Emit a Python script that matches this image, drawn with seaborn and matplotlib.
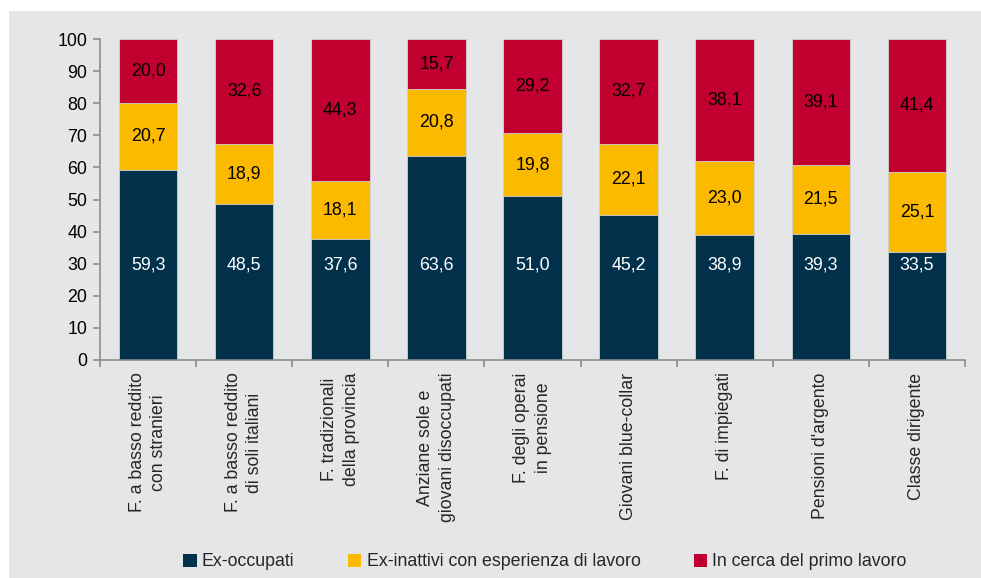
import numpy as np
import pandas as pd
import matplotlib
matplotlib.use("Agg")
import matplotlib.pyplot as plt
from matplotlib.patches import Rectangle, Patch
import seaborn as sns

# ---------------- dati ----------------
categorie = [
    "F. a basso reddito\ncon stranieri",
    "F. a basso reddito\ndi soli italiani",
    "F. tradizionali\ndella provincia",
    "Anziane sole e\ngiovani disoccupati",
    "F. degli operai\nin pensione",
    "Giovani blue-collar",
    "F. di impiegati",
    "Pensioni d'argento",
    "Classe dirigente",
]
ex_occupati = [59.3, 48.5, 37.6, 63.6, 51.0, 45.2, 38.9, 39.3, 33.5]
ex_inattivi = [20.7, 18.9, 18.1, 20.8, 19.8, 22.1, 23.0, 21.5, 25.1]
primo_lavoro = [20.0, 32.6, 44.3, 15.7, 29.2, 32.7, 38.1, 39.1, 41.4]

serie = ["Ex-occupati", "Ex-inattivi con esperienza di lavoro", "In cerca del primo lavoro"]
colori = ["#02324b", "#fbba00", "#c2002f"]

# ---------------- stile ----------------
sns.set_theme(style="white")
plt.rcParams["font.family"] = ["Liberation Sans", "DejaVu Sans"]
FS = 12.8
BG = "#e5e6e8"
GRIGIO = "#8c8c8c"

df = pd.DataFrame({
    "cat": categorie,
    "occ": ex_occupati,
    "ina": ex_inattivi,
    "cerca": primo_lavoro,
})
df["cum1"] = df["occ"]
df["cum2"] = df["occ"] + df["ina"]
df["cum3"] = df["cum2"] + df["cerca"]

fig = plt.figure(figsize=(9.81, 5.78), dpi=100)
fig.patch.set_facecolor("white")
fig.patches.append(Rectangle((9 / 981, 0), 1, 1 - 11 / 578, transform=fig.transFigure,
                             facecolor=BG, edgecolor="none", zorder=-10))
ax = fig.add_axes([100 / 981, 1 - 360 / 578, 865 / 981, 321 / 578])
ax.set_facecolor(BG)

# barre sovrapposte (totali cumulati), dal piu' alto al piu' basso
for col, c in zip(["cum3", "cum2", "cum1"], colori[::-1]):
    sns.barplot(data=df, x="cat", y=col, color=c, width=0.61, ax=ax,
                saturation=1, linewidth=0.6, edgecolor="#d0d3d8", zorder=2)

# etichette
for i in range(len(categorie)):
    ax.text(i, 29.7, f"{ex_occupati[i]:.1f}".replace(".", ","), ha="center", va="center",
            color="white", fontsize=FS)
    ax.text(i, df["cum1"][i] + ex_inattivi[i] / 2, f"{ex_inattivi[i]:.1f}".replace(".", ","),
            ha="center", va="center", color="black", fontsize=FS)
    ax.text(i, df["cum2"][i] + primo_lavoro[i] / 2, f"{primo_lavoro[i]:.1f}".replace(".", ","),
            ha="center", va="center", color="black", fontsize=FS)

ax.set_ylim(0, 100)
ax.set_xlim(-0.5, len(categorie) - 0.5)
ax.set_yticks(np.arange(0, 101, 10))
ax.set_xlabel("")
ax.set_ylabel("")

# assi
for s in ["top", "right"]:
    ax.spines[s].set_visible(False)
for s in ["left", "bottom"]:
    ax.spines[s].set_color(GRIGIO)
    ax.spines[s].set_linewidth(1.2)

ax.tick_params(axis="y", which="major", direction="out", length=5, width=1.2, color=GRIGIO,
               labelsize=FS, labelcolor="black", pad=4, left=True)
ax.set_xticks(np.arange(len(categorie)))
ax.set_xticklabels(categorie, rotation=90, fontsize=FS, va="top", ha="center",
                   linespacing=1.35)
ax.tick_params(axis="x", which="major", length=0, pad=9)
ax.set_xticks(np.arange(-0.5, len(categorie)), minor=True)
ax.tick_params(axis="x", which="minor", direction="out", length=5, width=1.2, color=GRIGIO,
               bottom=True)

handles = [Patch(facecolor=c, edgecolor="none") for c in colori]
fig.legend(handles, serie, loc="center", bbox_to_anchor=(545 / 981, 1 - 562 / 578),
           ncol=3, frameon=False, fontsize=FS, handlelength=0.75, handleheight=0.75,
           handletextpad=0.3, columnspacing=3.0)

fig.savefig("out.png", dpi=100, facecolor=fig.get_facecolor())
